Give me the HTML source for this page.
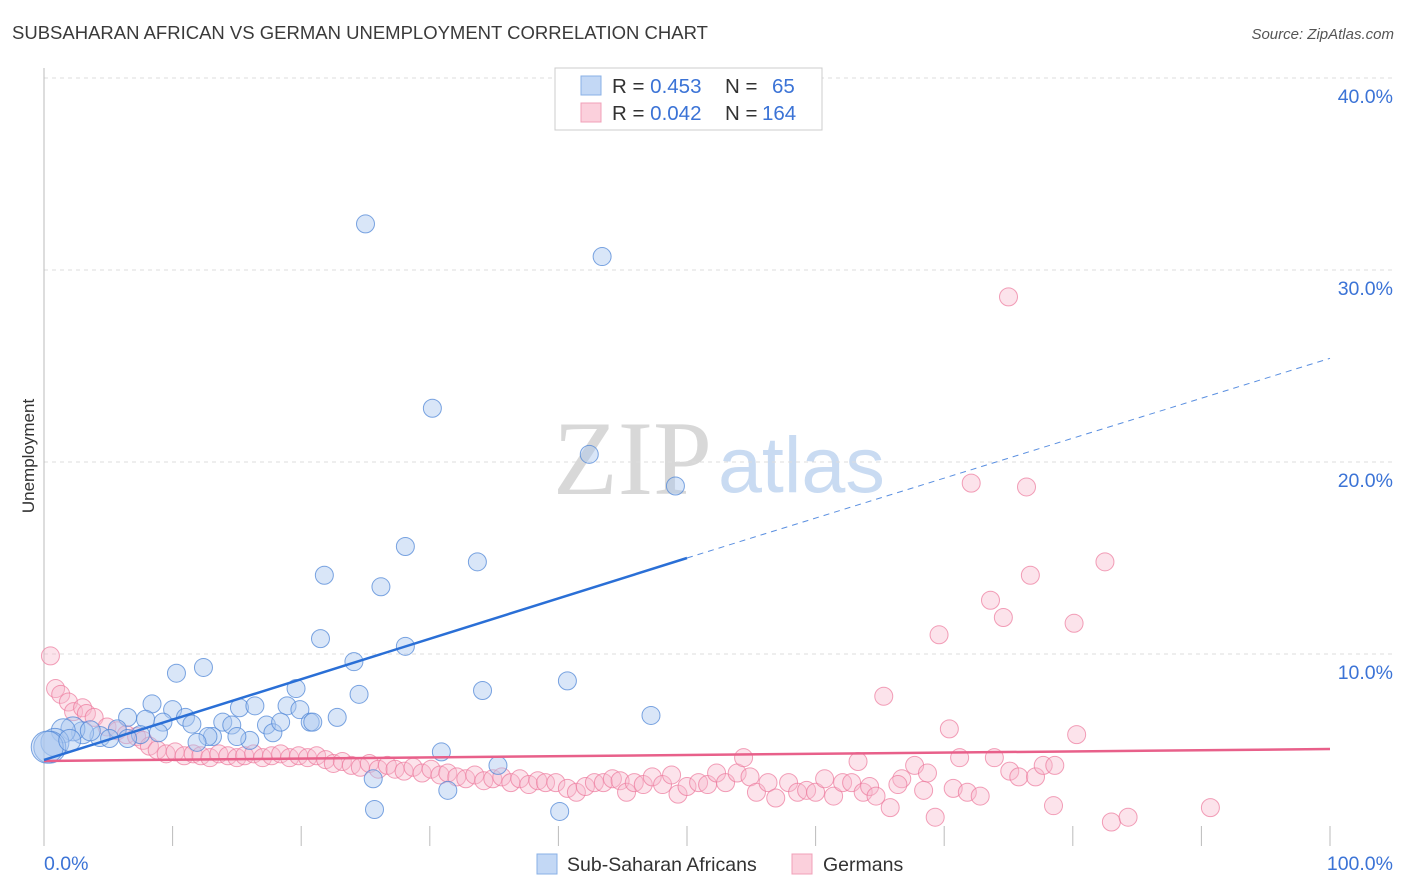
<!DOCTYPE html>
<html><head><meta charset="utf-8">
<style>
body{margin:0;background:#fff;font-family:"Liberation Sans",sans-serif;}
svg{display:block}
</style></head>
<body>
<svg id="chart" width="1406" height="892" xmlns="http://www.w3.org/2000/svg">
<text x="12" y="39" font-size="18.5" fill="#3a3a3a">SUBSAHARAN AFRICAN VS GERMAN UNEMPLOYMENT CORRELATION CHART</text>
<text x="1394" y="39" font-size="15" fill="#555" font-style="italic" text-anchor="end">Source: ZipAtlas.com</text>
<g>
<text x="553" y="494" font-family="Liberation Serif,serif" font-size="106" fill="#d8d8d8">ZIP</text>
<text x="718" y="492" font-size="79" fill="#c9dbf2">atlas</text>
</g>
<g id="grid"></g>
<g id="yticks"></g>
<g id="xticks"></g>
<line x1="44" y1="68" x2="44" y2="846" stroke="#bbb" stroke-width="1"/>
<text transform="translate(34,456) rotate(-90)" font-size="17" fill="#333" text-anchor="middle">Unemployment</text>
<g id="pinkPts"></g>
<g id="bluePts"></g>
<g id="lines"></g>
<g>
<rect x="555" y="68" width="267" height="62" fill="#fff" stroke="#ccc"/>
<rect x="581" y="76" width="20" height="19" fill="#c3d8f5" stroke="#8ab0e6"/>
<rect x="581" y="103" width="20" height="19" fill="#fbd0dc" stroke="#f0a0b8"/>
<text x="612" y="93" font-size="20.5" fill="#333">R = <tspan fill="#3b73d6">0.453</tspan><tspan x="725">N = </tspan><tspan x="772" fill="#3b73d6">65</tspan></text>
<text x="612" y="120" font-size="20.5" fill="#333">R = <tspan fill="#3b73d6">0.042</tspan><tspan x="725">N = </tspan><tspan x="762" fill="#3b73d6">164</tspan></text>
</g>
<text x="44" y="870" font-size="19.5" fill="#3b73d6">0.0%</text>
<text x="1393" y="870" font-size="19.5" fill="#3b73d6" text-anchor="end">100.0%</text>
<g>
<rect x="537" y="854" width="20" height="20" fill="#c3d8f5" stroke="#8ab0e6"/>
<text x="567" y="871" font-size="19.5" fill="#333">Sub-Saharan Africans</text>
<rect x="792" y="854" width="20" height="20" fill="#fbd0dc" stroke="#f0a0b8"/>
<text x="823" y="871" font-size="19.5" fill="#333">Germans</text>
</g>
</svg>
<script>
const yTicks=[10,20,30,40];
const yTickLabels=["10.0%","20.0%","30.0%","40.0%"];
const xTicks=[0,10,20,30,40,50,60,70,80,90,100];
const blueX=[25.0,43.4,30.2,42.4,49.1,28.1,33.7,21.8,26.2,21.5,28.1,24.1,12.4,10.3,19.6,34.1,40.7,24.5,8.4,47.2,6.5,7.9,10.0,11.0,11.5,9.25,15.2,16.4,13.9,14.6,18.9,19.9,20.7,20.9,22.8,17.3,17.8,18.4,16.0,15.0,13.1,12.75,11.9,8.9,7.5,5.7,4.35,3.0,2.25,1.5,0.85,0.45,0.25,30.9,35.3,25.6,31.4,25.7,40.1,3.6,5.1,6.5,2.0];
const blueY=[32.4,30.7,22.8,20.4,18.75,15.6,14.8,14.1,13.5,10.8,10.4,9.6,9.3,9.0,8.2,8.1,8.6,7.9,7.4,6.8,6.7,6.6,7.1,6.7,6.35,6.45,7.2,7.3,6.45,6.3,7.3,7.1,6.45,6.45,6.7,6.3,5.9,6.45,5.5,5.7,5.7,5.7,5.4,5.9,5.8,6.1,5.7,5.9,6.1,6.0,5.4,5.15,5.15,4.9,4.2,3.5,2.9,1.9,1.8,6.0,5.6,5.6,5.5];
const blueR=[9,9,9,9,9,9,9,9,9,9,9,9,9,9,9,9,9,9,9,9,9,9,9,9,9,9,9,9,9,9,9,9,9,9,9,9,9,9,9,9,9,9,9,9,9,9,10,11,12,12,14,16,16,9,9,9,9,9,9,10,9,9,11];
const pinkX=[75.0,72.1,76.4,82.5,76.7,73.6,74.6,80.1,69.6,65.3,70.4,80.3,0.5,0.9,1.3,1.9,2.3,3.0,3.3,3.9,4.9,5.7,6.4,7.2,7.7,8.2,
8.8,9.5,10.2,10.9,11.6,12.2,12.9,13.6,14.3,15.0,15.6,16.3,17.0,17.7,18.4,19.1,19.8,20.5,21.2,21.9,22.5,23.2,23.9,24.6,25.3,26.0,26.7,27.3,28.0,28.7,29.4,30.1,30.8,31.4,32.1,32.8,33.5,34.2,34.9,35.6,36.3,37.0,37.7,38.4,
39.0,39.8,40.7,41.4,42.1,42.8,43.5,44.2,44.8,45.3,45.9,46.6,47.3,48.1,48.8,49.3,50.0,50.9,51.6,52.3,53.0,53.9,54.9,55.4,56.3,56.9,57.9,58.6,59.3,60.0,60.7,61.4,62.1,62.8,63.7,64.2,64.7,
54.4,63.3,71.2,73.9,67.7,68.7,66.7,66.4,68.4,70.7,71.8,72.8,75.1,75.8,77.1,77.7,78.6,78.5,65.8,69.3,83.0,84.3,90.7];
const pinkY=[28.6,18.9,18.7,14.8,14.1,12.8,11.9,11.6,11.0,7.8,6.1,5.8,9.9,8.2,7.9,7.5,7.0,7.2,6.9,6.7,6.2,6.0,5.8,5.7,5.5,5.2,
5.0,4.8,4.9,4.7,4.8,4.7,4.6,4.8,4.7,4.6,4.7,4.8,4.6,4.7,4.8,4.6,4.7,4.6,4.7,4.5,4.3,4.4,4.2,4.1,4.3,4.0,4.2,4.0,3.9,4.1,3.8,4.0,3.7,3.8,3.6,3.5,3.7,3.4,3.5,3.6,3.3,3.5,3.2,3.4,
3.3,3.3,3.0,2.8,3.1,3.3,3.3,3.5,3.4,2.8,3.3,3.2,3.6,3.2,3.7,2.7,3.1,3.3,3.2,3.8,3.3,3.8,3.6,2.8,3.3,2.5,3.3,2.8,2.9,2.8,3.5,2.6,3.3,3.3,2.8,3.1,2.6,
4.6,4.4,4.6,4.6,4.2,3.8,3.5,3.2,2.9,3.0,2.8,2.6,3.9,3.6,3.6,4.2,4.2,2.1,2.0,1.5,1.25,1.5,2.0];
const blueTrend=[4.48,15.0,25.4];
const pinkTrend=[4.43,5.05];

const X0=44,X1=1330,Y0=846,YS=19.2;
const sx=v=>X0+(X1-X0)*v/100;
const sy=v=>Y0-v*YS;
const NS="http://www.w3.org/2000/svg";
function mk(tag,attrs,parent){const e=document.createElementNS(NS,tag);for(const k in attrs)e.setAttribute(k,attrs[k]);parent.appendChild(e);return e;}

const grid=document.getElementById('grid'),yt=document.getElementById('yticks'),xt=document.getElementById('xticks');
yTicks.forEach((t,i)=>{
  const l=mk('line',{x1:X0,x2:1393,y1:sy(t),y2:sy(t),stroke:'#ddd','stroke-dasharray':'4,4'},grid);
  
  
  const tx=mk('text',{x:1393,y:sy(t)+25,'font-size':19.5,fill:'#3b73d6','text-anchor':'end'},yt);
  tx.textContent=yTickLabels[i];
  
  
});
xTicks.forEach(t=>{
  const l=mk('line',{x1:sx(t),x2:sx(t),y1:826,y2:846,stroke:'#bbb'},xt);
  
  
});
const pg=document.getElementById('pinkPts');
pinkX.forEach((x,i)=>{
  const c=mk('circle',{cx:sx(x),cy:sy(pinkY[i]),r:9,fill:'rgba(248,185,205,0.4)',stroke:'rgba(236,120,155,0.7)','stroke-width':1},pg);
  
  
});
const bg=document.getElementById('bluePts');
blueX.forEach((x,i)=>{
  const c=mk('circle',{cx:sx(x),cy:sy(blueY[i]),r:blueR[i],fill:'rgba(170,200,240,0.45)',stroke:'rgba(80,135,215,0.75)','stroke-width':1},bg);
  
  
});
const lg=document.getElementById('lines');
const pl=mk('line',{x1:sx(0),y1:sy(pinkTrend[0]),x2:sx(100),y2:sy(pinkTrend[1]),stroke:'#e8608a','stroke-width':2.5},lg);


const bl=mk('line',{x1:sx(0),y1:sy(blueTrend[0]),x2:sx(50),y2:sy(blueTrend[1]),stroke:'#2a6fd6','stroke-width':2.5},lg);


const bd=mk('line',{x1:sx(50),y1:sy(blueTrend[1]),x2:sx(100),y2:sy(blueTrend[2]),stroke:'#5a8fe0','stroke-width':1,'stroke-dasharray':'6,5'},lg);


</script>
</body></html>
